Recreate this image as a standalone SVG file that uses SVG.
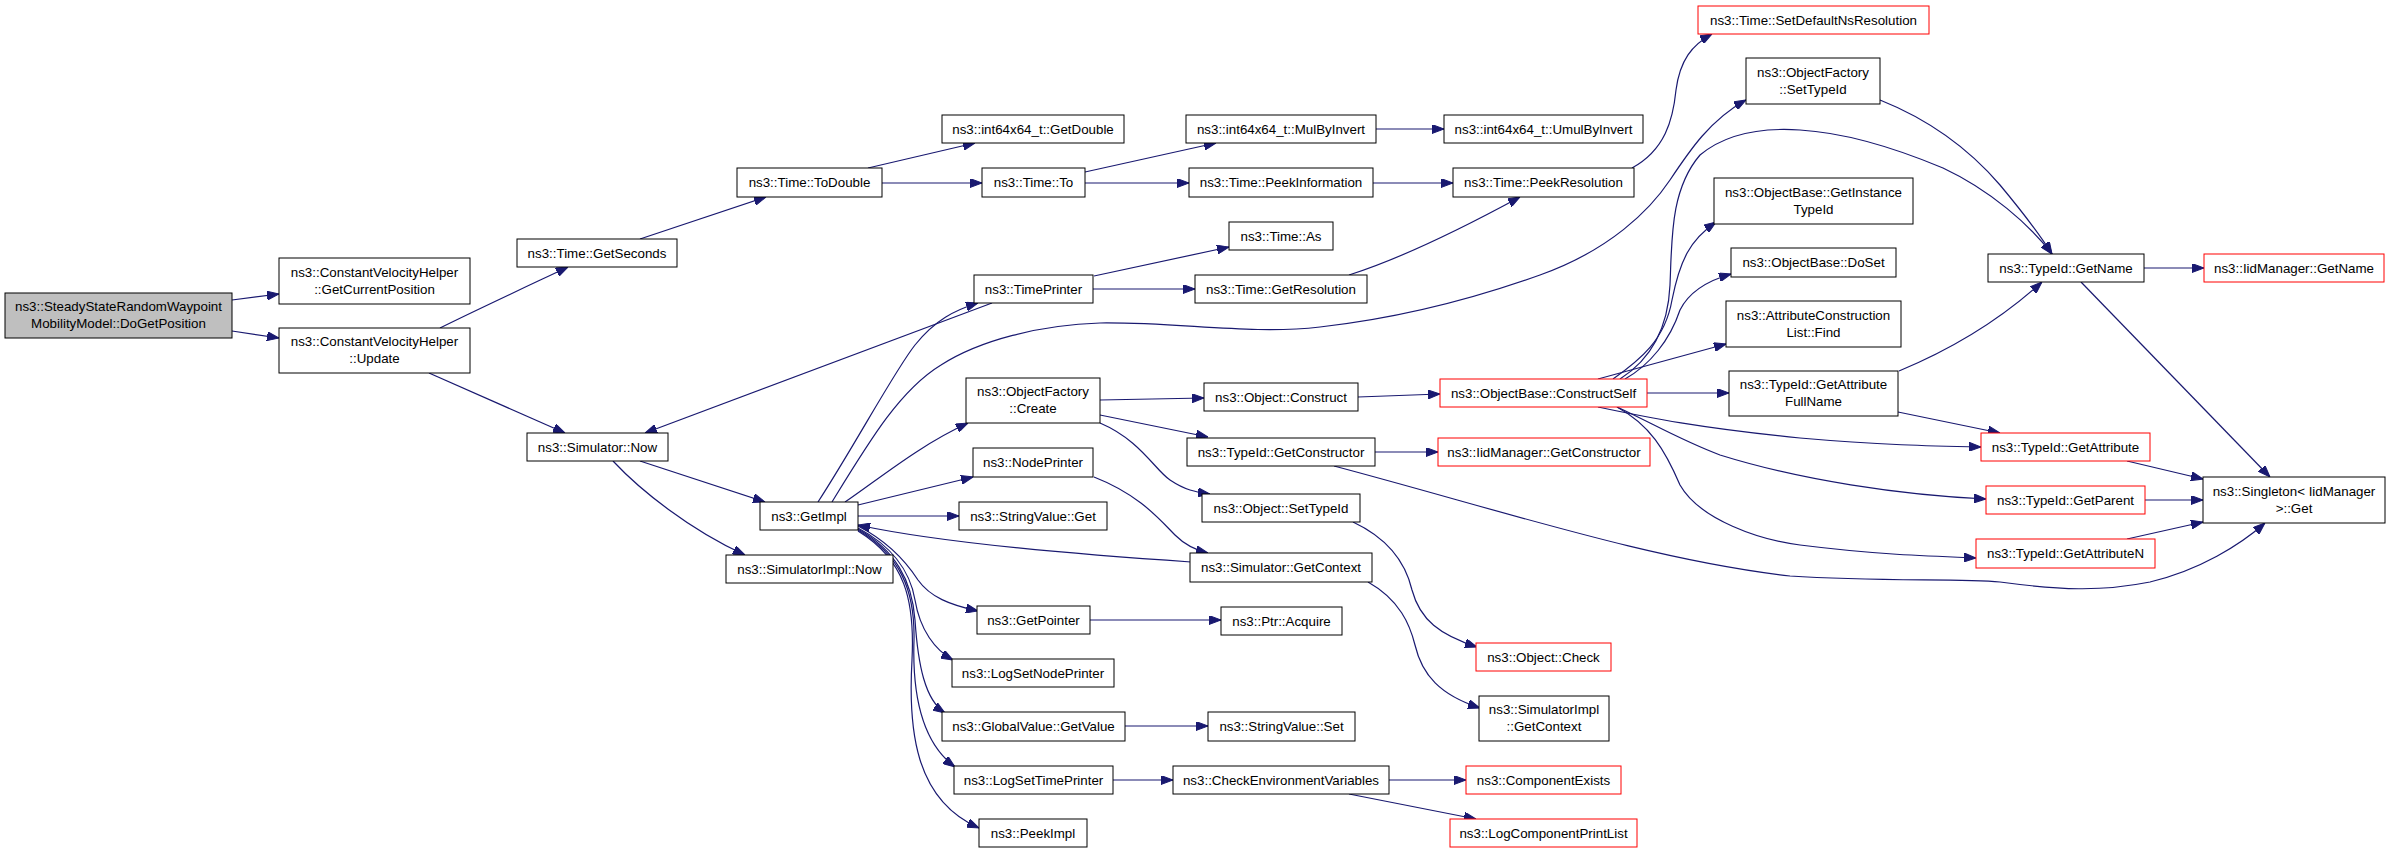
<svg xmlns="http://www.w3.org/2000/svg" width="2389" height="853" viewBox="0 0 2389 853">
<style>
.n rect{fill:#fff;stroke:#000;stroke-width:1}
.r rect{stroke:#ff0000}
.root rect{fill:#bfbfbf}
text{font-family:"Liberation Sans",Arial,Helvetica,sans-serif;font-size:13.33px;text-anchor:middle;fill:#000}
#edges path{fill:none;stroke:#191970;stroke-width:1.2;marker-end:url(#ah)}
</style>
<defs>
<marker id="ah" markerUnits="userSpaceOnUse" markerWidth="12" markerHeight="9" refX="12" refY="4.5" orient="auto"><path d="M0,0 L12,4.5 L0,9 z" fill="#191970" stroke="#191970" stroke-width="1"/></marker>
</defs>
<rect width="2389" height="853" fill="#fff"/>
<g id="edges">
<path d="M232,300 L279,294"/>
<path d="M232,331 L279,338"/>
<path d="M440,328 C470,313 515,292 568,267"/>
<path d="M429,373 L565,433"/>
<path d="M640,239 L766,197"/>
<path d="M868,168 L975,143"/>
<path d="M882,183 L982,183"/>
<path d="M1085,172 L1216,143"/>
<path d="M1085,183 L1189,183"/>
<path d="M1376,129 L1444,129"/>
<path d="M1373,183 L1453,183"/>
<path d="M1632,168 C1665,150 1673,120 1676,90 C1680,60 1692,45 1712,34"/>
<path d="M640,461 L765,502"/>
<path d="M613,461 C640,490 690,530 745,555"/>
<path d="M818,502 C855,445 895,370 915,345 C935,320 955,310 978,303"/>
<path d="M1094,276 L1229,247"/>
<path d="M1093,289 L1195,289"/>
<path d="M1349,275 C1390,262 1450,235 1520,197"/>
<path d="M992,303 L645,433"/>
<path d="M845,502 C880,478 920,445 968,423"/>
<path d="M858,505 L973,477"/>
<path d="M858,516 L959,516"/>
<path d="M832,502 C870,440 900,390 941,365 C980,340 1040,325 1100,323 C1180,322 1250,335 1320,327 C1400,318 1470,300 1540,275 C1610,250 1650,210 1670,180 C1690,150 1710,120 1746,100"/>
<path d="M858,526 C885,540 905,560 918,580 C930,597 950,605 978,611"/>
<path d="M858,528 C890,545 910,570 915,600 C920,630 935,650 953,660"/>
<path d="M858,529 C895,550 912,580 915,620 C918,665 925,700 945,713"/>
<path d="M858,530 C900,555 915,590 914,640 C912,700 925,745 955,767"/>
<path d="M858,531 C905,560 915,600 912,660 C908,730 915,800 979,828"/>
<path d="M1191,562 C1100,556 950,545 858,525"/>
<path d="M1094,477 C1140,495 1160,520 1175,535 C1185,545 1195,550 1208,553"/>
<path d="M1100,400 L1204,398"/>
<path d="M1100,415 L1208,437"/>
<path d="M1100,423 C1140,440 1155,470 1170,480 C1185,490 1195,492 1210,494"/>
<path d="M1358,397 L1440,394"/>
<path d="M1375,452 L1438,452"/>
<path d="M1334,466 C1500,510 1650,560 1790,576 C1880,582 1960,578 2000,582 C2060,590 2100,592 2150,582 C2200,570 2240,545 2265,523"/>
<path d="M1353,522 C1385,537 1405,560 1412,590 C1420,620 1440,635 1477,647"/>
<path d="M1368,582 C1400,600 1410,625 1415,645 C1422,675 1440,695 1480,708"/>
<path d="M1090,620 L1221,620"/>
<path d="M1125,726 L1208,726"/>
<path d="M1113,780 L1173,780"/>
<path d="M1389,780 L1466,780"/>
<path d="M1349,794 L1476,819"/>
<path d="M1613,379 C1640,360 1665,340 1672,300 C1680,260 1690,240 1716,222"/>
<path d="M1625,379 C1650,365 1670,340 1680,310 C1690,290 1710,280 1731,274"/>
<path d="M1598,379 L1726,344"/>
<path d="M1647,393 L1729,393"/>
<path d="M1620,379 C1650,360 1668,330 1670,285 C1672,240 1670,190 1700,155 C1730,130 1770,128 1800,130 C1850,133 1900,150 1943,168 C1990,190 2030,225 2052,254"/>
<path d="M1598,407 C1650,418 1700,428 1800,438 C1880,445 1930,446 1981,447"/>
<path d="M1617,407 C1650,422 1680,440 1720,455 C1800,480 1900,495 1986,499"/>
<path d="M1617,407 C1650,425 1665,450 1680,485 C1700,520 1760,540 1800,545 C1880,555 1930,556 1976,558"/>
<path d="M1880,100 C1930,120 1970,150 2000,185 C2025,215 2040,235 2052,254"/>
<path d="M2144,268 L2204,268"/>
<path d="M2081,282 L2270,477"/>
<path d="M1899,371 C1950,350 2000,320 2042,282"/>
<path d="M1898,412 L2000,433"/>
<path d="M2127,461 L2203,479"/>
<path d="M2145,500 L2203,500"/>
<path d="M2127,539 L2203,522"/>
</g>
<g id="root" class="n root"><rect x="5" y="293" width="227" height="45"/><text x="118.5" y="311">ns3::SteadyStateRandomWaypoint</text><text x="118.5" y="328">MobilityModel::DoGetPosition</text></g>
<g id="gcp" class="n"><rect x="279" y="258" width="191" height="46"/><text x="374.5" y="276.5">ns3::ConstantVelocityHelper</text><text x="374.5" y="293.5">::GetCurrentPosition</text></g>
<g id="upd" class="n"><rect x="279" y="328" width="191" height="45"/><text x="374.5" y="346">ns3::ConstantVelocityHelper</text><text x="374.5" y="363">::Update</text></g>
<g id="getseconds" class="n"><rect x="517" y="239" width="160" height="28"/><text x="597" y="257.5">ns3::Time::GetSeconds</text></g>
<g id="now" class="n"><rect x="527" y="433" width="141" height="28"/><text x="597.5" y="451.5">ns3::Simulator::Now</text></g>
<g id="todouble" class="n"><rect x="737" y="168" width="145" height="29"/><text x="809.5" y="187">ns3::Time::ToDouble</text></g>
<g id="getdouble" class="n"><rect x="942" y="115" width="182" height="28"/><text x="1033" y="133.5">ns3::int64x64_t::GetDouble</text></g>
<g id="to" class="n"><rect x="982" y="168" width="103" height="29"/><text x="1033.5" y="187">ns3::Time::To</text></g>
<g id="mulbyinvert" class="n"><rect x="1186" y="115" width="190" height="28"/><text x="1281" y="133.5">ns3::int64x64_t::MulByInvert</text></g>
<g id="peekinfo" class="n"><rect x="1189" y="168" width="184" height="29"/><text x="1281" y="187">ns3::Time::PeekInformation</text></g>
<g id="umul" class="n"><rect x="1444" y="115" width="199" height="28"/><text x="1543.5" y="133.5">ns3::int64x64_t::UmulByInvert</text></g>
<g id="peekres" class="n"><rect x="1453" y="168" width="181" height="29"/><text x="1543.5" y="187">ns3::Time::PeekResolution</text></g>
<g id="setdefault" class="n r"><rect x="1698" y="6" width="231" height="28"/><text x="1813.5" y="24.5">ns3::Time::SetDefaultNsResolution</text></g>
<g id="oftypeid" class="n"><rect x="1746" y="58" width="134" height="46"/><text x="1813" y="76.5">ns3::ObjectFactory</text><text x="1813" y="93.5">::SetTypeId</text></g>
<g id="getinst" class="n"><rect x="1714" y="178" width="199" height="46"/><text x="1813.5" y="196.5">ns3::ObjectBase::GetInstance</text><text x="1813.5" y="213.5">TypeId</text></g>
<g id="doset" class="n"><rect x="1731" y="248" width="165" height="29"/><text x="1813.5" y="267">ns3::ObjectBase::DoSet</text></g>
<g id="getname" class="n"><rect x="1988" y="254" width="156" height="28"/><text x="2066" y="272.5">ns3::TypeId::GetName</text></g>
<g id="iidgetname" class="n r"><rect x="2204" y="254" width="180" height="28"/><text x="2294" y="272.5">ns3::IidManager::GetName</text></g>
<g id="timeas" class="n"><rect x="1229" y="222" width="104" height="28"/><text x="1281" y="240.5">ns3::Time::As</text></g>
<g id="timeprinter" class="n"><rect x="974" y="275" width="119" height="28"/><text x="1033.5" y="293.5">ns3::TimePrinter</text></g>
<g id="getres" class="n"><rect x="1195" y="275" width="172" height="28"/><text x="1281" y="293.5">ns3::Time::GetResolution</text></g>
<g id="acfind" class="n"><rect x="1726" y="301" width="175" height="46"/><text x="1813.5" y="319.5">ns3::AttributeConstruction</text><text x="1813.5" y="336.5">List::Find</text></g>
<g id="fullname" class="n"><rect x="1729" y="371" width="169" height="45"/><text x="1813.5" y="389">ns3::TypeId::GetAttribute</text><text x="1813.5" y="406">FullName</text></g>
<g id="create" class="n"><rect x="966" y="378" width="134" height="45"/><text x="1033" y="396">ns3::ObjectFactory</text><text x="1033" y="413">::Create</text></g>
<g id="construct" class="n"><rect x="1204" y="383" width="154" height="28"/><text x="1281" y="401.5">ns3::Object::Construct</text></g>
<g id="constructself" class="n r"><rect x="1440" y="379" width="207" height="28"/><text x="1543.5" y="397.5">ns3::ObjectBase::ConstructSelf</text></g>
<g id="getconstructor" class="n"><rect x="1187" y="438" width="188" height="28"/><text x="1281" y="456.5">ns3::TypeId::GetConstructor</text></g>
<g id="iidgetconstructor" class="n r"><rect x="1438" y="438" width="212" height="28"/><text x="1544" y="456.5">ns3::IidManager::GetConstructor</text></g>
<g id="nodeprinter" class="n"><rect x="973" y="448" width="120" height="29"/><text x="1033" y="467">ns3::NodePrinter</text></g>
<g id="getattribute" class="n r"><rect x="1981" y="433" width="169" height="28"/><text x="2065.5" y="451.5">ns3::TypeId::GetAttribute</text></g>
<g id="singleton" class="n"><rect x="2203" y="477" width="182" height="46"/><text x="2294" y="495.5">ns3::Singleton&lt; IidManager</text><text x="2294" y="512.5">&gt;::Get</text></g>
<g id="getparent" class="n r"><rect x="1986" y="486" width="159" height="28"/><text x="2065.5" y="504.5">ns3::TypeId::GetParent</text></g>
<g id="getimpl" class="n"><rect x="760" y="502" width="98" height="28"/><text x="809" y="520.5">ns3::GetImpl</text></g>
<g id="stringget" class="n"><rect x="959" y="502" width="148" height="28"/><text x="1033" y="520.5">ns3::StringValue::Get</text></g>
<g id="objsettypeid" class="n"><rect x="1202" y="494" width="158" height="28"/><text x="1281" y="512.5">ns3::Object::SetTypeId</text></g>
<g id="getattrn" class="n r"><rect x="1976" y="539" width="179" height="29"/><text x="2065.5" y="558">ns3::TypeId::GetAttributeN</text></g>
<g id="simimplnow" class="n"><rect x="726" y="555" width="167" height="28"/><text x="809.5" y="573.5">ns3::SimulatorImpl::Now</text></g>
<g id="simgetcontext" class="n"><rect x="1190" y="553" width="182" height="29"/><text x="1281" y="572">ns3::Simulator::GetContext</text></g>
<g id="getpointer" class="n"><rect x="977" y="606" width="113" height="28"/><text x="1033.5" y="624.5">ns3::GetPointer</text></g>
<g id="acquire" class="n"><rect x="1221" y="607" width="121" height="28"/><text x="1281.5" y="625.5">ns3::Ptr::Acquire</text></g>
<g id="check" class="n r"><rect x="1476" y="643" width="135" height="28"/><text x="1543.5" y="661.5">ns3::Object::Check</text></g>
<g id="lognodeprinter" class="n"><rect x="952" y="659" width="162" height="28"/><text x="1033" y="677.5">ns3::LogSetNodePrinter</text></g>
<g id="simimplgetcontext" class="n"><rect x="1479" y="696" width="130" height="45"/><text x="1544" y="714">ns3::SimulatorImpl</text><text x="1544" y="731">::GetContext</text></g>
<g id="globalvalue" class="n"><rect x="942" y="712" width="183" height="29"/><text x="1033.5" y="731">ns3::GlobalValue::GetValue</text></g>
<g id="stringset" class="n"><rect x="1208" y="712" width="147" height="29"/><text x="1281.5" y="731">ns3::StringValue::Set</text></g>
<g id="logtimeprinter" class="n"><rect x="954" y="766" width="159" height="28"/><text x="1033.5" y="784.5">ns3::LogSetTimePrinter</text></g>
<g id="checkenv" class="n"><rect x="1173" y="766" width="216" height="28"/><text x="1281" y="784.5">ns3::CheckEnvironmentVariables</text></g>
<g id="compexists" class="n r"><rect x="1466" y="766" width="155" height="28"/><text x="1543.5" y="784.5">ns3::ComponentExists</text></g>
<g id="peekimpl" class="n"><rect x="979" y="819" width="108" height="28"/><text x="1033" y="837.5">ns3::PeekImpl</text></g>
<g id="logcomplist" class="n r"><rect x="1450" y="819" width="187" height="28"/><text x="1543.5" y="837.5">ns3::LogComponentPrintList</text></g>
</svg>
